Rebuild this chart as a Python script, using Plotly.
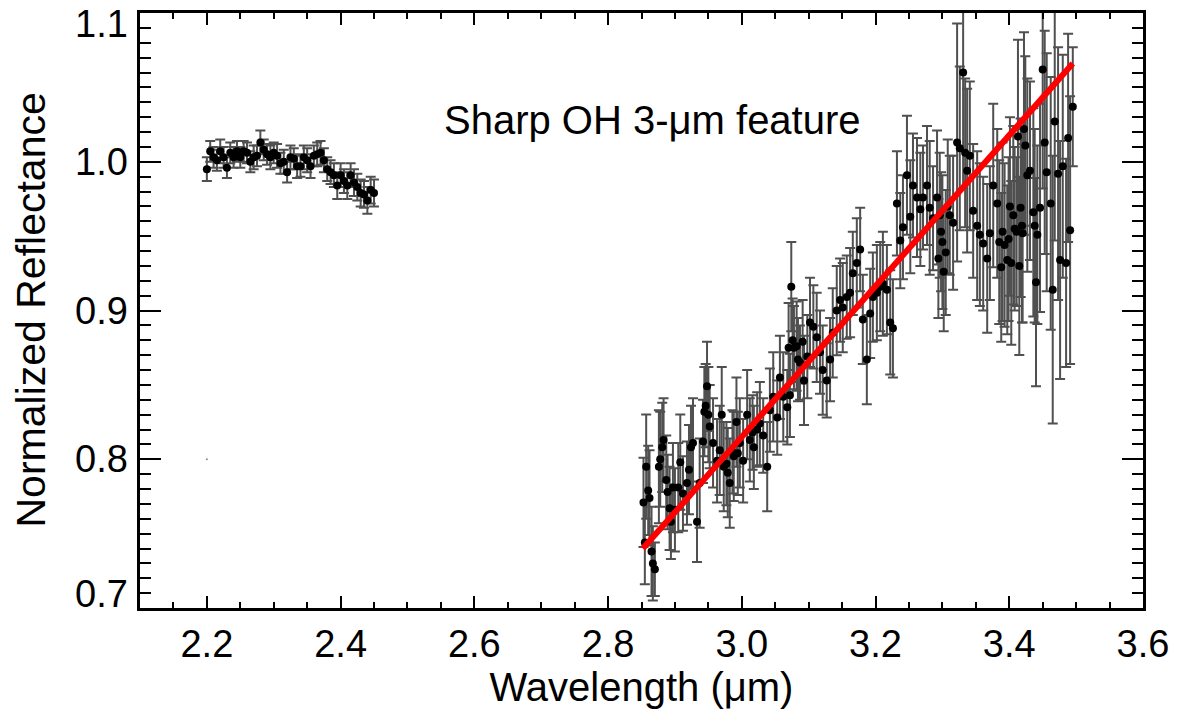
import plotly.graph_objects as go

# ---------------- data ----------------
# Short-wavelength segment (2.2-2.45 um)
wl_left = [2.200, 2.205, 2.210, 2.215, 2.220, 2.225, 2.230, 2.235, 2.240, 2.245,
           2.250, 2.255, 2.260, 2.265, 2.270, 2.275, 2.280, 2.285, 2.290, 2.295,
           2.300, 2.305, 2.310, 2.315, 2.320, 2.325, 2.330, 2.335, 2.340, 2.345,
           2.350, 2.355, 2.360, 2.365, 2.370, 2.375, 2.380, 2.385, 2.390, 2.395,
           2.400, 2.405, 2.410, 2.415, 2.420, 2.425, 2.430, 2.435, 2.440, 2.445,
           2.450]
refl_left = [0.995, 1.007, 1.003, 1.001, 1.007, 1.003, 0.996, 1.006, 1.003, 1.007,
             1.003, 1.007, 1.006, 1.000, 1.003, 1.004, 1.013, 1.008, 1.005, 1.003,
             1.006, 1.004, 0.999, 1.000, 0.993, 1.003, 1.002, 0.997, 0.997, 1.003,
             1.001, 0.997, 1.004, 1.005, 1.006, 1.001, 0.995, 0.993, 0.991, 0.984,
             0.991, 0.987, 0.984, 0.991, 0.986, 0.983, 0.979, 0.978, 0.974, 0.981,
             0.979]
err_left = [0.008, 0.007, 0.007, 0.007, 0.008, 0.007, 0.007, 0.007, 0.007, 0.007,
            0.007, 0.007, 0.007, 0.007, 0.008, 0.007, 0.008, 0.007, 0.007, 0.008,
            0.007, 0.008, 0.007, 0.008, 0.007, 0.008, 0.007, 0.008, 0.007, 0.008,
            0.008, 0.008, 0.007, 0.008, 0.008, 0.008, 0.008, 0.008, 0.008, 0.009,
            0.008, 0.008, 0.009, 0.008, 0.009, 0.009, 0.009, 0.009, 0.009, 0.009,
            0.009]

# Long-wavelength segment (2.85-3.5 um)
wl_right = [2.853, 2.855, 2.857, 2.860, 2.862, 2.865, 2.867, 2.870, 2.876, 2.878,
            2.881, 2.883, 2.887, 2.889, 2.892, 2.894, 2.897, 2.900, 2.905, 2.908,
            2.912, 2.918, 2.921, 2.924, 2.927, 2.933, 2.937, 2.942, 2.944, 2.946,
            2.948, 2.950, 2.952, 2.957, 2.963, 2.967, 2.970, 2.973, 2.977, 2.979,
            2.982, 2.986, 2.988, 2.992, 2.994, 2.997, 3.002, 3.008, 3.012, 3.016,
            3.018, 3.023, 3.027, 3.032, 3.038, 3.042, 3.047, 3.053, 3.057, 3.062,
            3.068, 3.070, 3.072, 3.074, 3.076, 3.078, 3.082, 3.084, 3.087, 3.091,
            3.093, 3.098, 3.102, 3.107, 3.112, 3.117, 3.121, 3.127, 3.132, 3.136,
            3.142, 3.147, 3.151, 3.157, 3.162, 3.166, 3.172, 3.177, 3.181, 3.187,
            3.192, 3.196, 3.202, 3.207, 3.211, 3.217, 3.222, 3.226, 3.232, 3.237,
            3.241, 3.247, 3.252, 3.256, 3.262, 3.267, 3.271, 3.277, 3.281, 3.286,
            3.292, 3.294, 3.296, 3.298, 3.300, 3.302, 3.305, 3.308, 3.311, 3.316,
            3.322, 3.326, 3.331, 3.334, 3.337, 3.341, 3.346, 3.352, 3.356, 3.361,
            3.367, 3.371, 3.376, 3.382, 3.385, 3.388, 3.390, 3.393, 3.397, 3.399,
            3.401, 3.403, 3.406, 3.408, 3.411, 3.413, 3.415, 3.417, 3.419, 3.420,
            3.422, 3.424, 3.427, 3.431, 3.436, 3.438, 3.440, 3.442, 3.446, 3.450,
            3.453, 3.456, 3.462, 3.465, 3.468, 3.473, 3.476, 3.480, 3.485, 3.488,
            3.491, 3.495]
refl_right = [0.771, 0.744, 0.795, 0.779, 0.774, 0.738, 0.730, 0.726, 0.795, 0.800,
              0.808, 0.813, 0.786, 0.778, 0.767, 0.758, 0.781, 0.766, 0.781, 0.798,
              0.777, 0.784, 0.793, 0.808, 0.811, 0.758, 0.784, 0.812, 0.832, 0.836,
              0.849, 0.830, 0.822, 0.811, 0.799, 0.806, 0.830, 0.795, 0.797, 0.791,
              0.784, 0.805, 0.802, 0.825, 0.804, 0.811, 0.799, 0.830, 0.813, 0.818,
              0.808, 0.820, 0.824, 0.816, 0.795, 0.833, 0.842, 0.828, 0.855, 0.842,
              0.835, 0.875, 0.843, 0.916, 0.880, 0.875, 0.876, 0.867, 0.865, 0.879,
              0.853, 0.869, 0.892, 0.889, 0.882, 0.872, 0.860, 0.853, 0.867, 0.885,
              0.900, 0.907, 0.902, 0.909, 0.912, 0.925, 0.932, 0.941, 0.894, 0.867,
              0.898, 0.909, 0.912, 0.916, 0.918, 0.914, 0.892, 0.888, 0.972, 0.947,
              0.956, 0.991, 0.963, 0.984, 0.976, 0.968, 0.976, 0.984, 0.969, 0.962,
              0.976, 0.935, 0.964, 0.953, 0.946, 0.926, 0.939, 0.970, 0.964, 0.959,
              1.013, 1.009, 1.060, 1.006, 0.994, 1.004, 0.967, 0.957, 0.951, 0.945,
              0.935, 0.952, 0.984, 0.972, 0.946, 0.929, 0.953, 0.944, 0.934, 0.948,
              0.970, 0.932, 0.964, 0.955, 0.953, 1.017, 0.930, 0.969, 0.957, 0.952,
              1.022, 1.011, 0.991, 0.994, 0.966, 0.957, 0.919, 0.951, 0.969, 1.062,
              1.013, 0.993, 0.972, 0.914, 1.027, 0.992, 0.934, 0.997, 0.932, 1.016,
              0.954, 1.037]
err_right = [0.030, 0.028, 0.035, 0.030, 0.032, 0.030, 0.025, 0.018, 0.038, 0.032,
             0.030, 0.028, 0.030, 0.025, 0.028, 0.025, 0.030, 0.028, 0.030, 0.032,
             0.025, 0.028, 0.030, 0.028, 0.030, 0.027, 0.030, 0.028, 0.030, 0.028,
             0.030, 0.032, 0.028, 0.030, 0.028, 0.030, 0.032, 0.030, 0.028, 0.030,
             0.030, 0.028, 0.030, 0.030, 0.028, 0.030, 0.028, 0.030, 0.028, 0.025,
             0.028, 0.025, 0.028, 0.025, 0.030, 0.028, 0.030, 0.025, 0.028, 0.030,
             0.025, 0.030, 0.028, 0.030, 0.028, 0.028, 0.030, 0.028, 0.025, 0.028,
             0.030, 0.028, 0.030, 0.028, 0.030, 0.028, 0.030, 0.025, 0.028, 0.030,
             0.030, 0.028, 0.030, 0.028, 0.030, 0.028, 0.030, 0.028, 0.030, 0.030,
             0.030, 0.030, 0.032, 0.030, 0.035, 0.030, 0.035, 0.033, 0.035, 0.032,
             0.035, 0.040, 0.038, 0.035, 0.040, 0.038, 0.035, 0.040, 0.045, 0.035,
             0.045, 0.040, 0.042, 0.040, 0.045, 0.040, 0.042, 0.045, 0.040, 0.045,
             0.080, 0.055, 0.078, 0.050, 0.055, 0.050, 0.045, 0.050, 0.048, 0.045,
             0.050, 0.045, 0.055, 0.050, 0.055, 0.050, 0.060, 0.055, 0.050, 0.055,
             0.060, 0.055, 0.060, 0.055, 0.050, 0.065, 0.060, 0.060, 0.065, 0.060,
             0.065, 0.060, 0.065, 0.060, 0.070, 0.065, 0.070, 0.060, 0.070, 0.080,
             0.075, 0.080, 0.085, 0.090, 0.080, 0.085, 0.080, 0.075, 0.070, 0.070,
             0.090, 0.040]

# Linear continuum fit (end points)
fit_wl = [2.852, 3.495]
fit_refl = [0.740, 1.066]

# stray speck in the original figure
speck_wl = [2.200]
speck_refl = [0.800]

x_ticks = [2.2, 2.4, 2.6, 2.8, 3.0, 3.2, 3.4, 3.6]
y_ticks = [0.7, 0.8, 0.9, 1.0, 1.1]
y_ticklabels = ["0.7", "0.8", "0.9", "1.0", "1.1"]

annotation_text = "Sharp OH 3-\u03bcm feature"
x_title = "Wavelength (\u03bcm)"
y_title = "Normalized Reflectance"

assert len(wl_left) == len(refl_left) == len(err_left)
assert len(wl_right) == len(refl_right) == len(err_right)

FONT = "Liberation Sans, Arial, Helvetica, sans-serif"
BAR_COLOR = "#505050"
TICK_SIZE = 38

fig = go.Figure()

for wl, rf, er in [(wl_left, refl_left, err_left), (wl_right, refl_right, err_right)]:
    fig.add_trace(go.Scatter(
        x=wl, y=rf, mode="markers",
        marker=dict(color="black", size=8, line=dict(width=0)),
        error_y=dict(type="data", array=er, visible=True,
                     color=BAR_COLOR, thickness=2, width=5),
        showlegend=False, hoverinfo="skip",
    ))

fig.add_trace(go.Scatter(
    x=speck_wl, y=speck_refl, mode="markers",
    marker=dict(color="#888888", size=2), showlegend=False, hoverinfo="skip"))

fig.add_trace(go.Scatter(
    x=fit_wl, y=fit_refl, mode="lines",
    line=dict(color="#ff0000", width=6), showlegend=False, hoverinfo="skip"))

fig.add_annotation(x=2.866, y=1.028, xref="x", yref="y", text=annotation_text,
                   showarrow=False, font=dict(family=FONT, size=40, color="black"))

# y tick labels: the end labels are nudged inward like in the original,
# so all of them are placed as text next to the axis (yshift > 0 moves up)
for val, lab in zip(y_ticks, y_ticklabels):
    yshift = 0
    if val == y_ticks[-1]:
        yshift = -11
    elif val == y_ticks[0]:
        yshift = 14
    fig.add_annotation(x=0, y=val, xref="paper", yref="y", text=lab,
                       showarrow=False, xanchor="right", yanchor="middle",
                       xshift=-10, yshift=yshift,
                       font=dict(family=FONT, size=TICK_SIZE, color="black"))

axis_common = dict(showgrid=False, zeroline=False, showline=True, linecolor="black",
                   linewidth=3, mirror="allticks", ticks="inside", tickwidth=2,
                   tickcolor="black", tickformat=".1f", automargin=False,
                   tickmode="array",
                   tickfont=dict(family=FONT, size=TICK_SIZE, color="black"))

fig.update_xaxes(range=[2.1, 3.6], tickvals=x_ticks, ticklen=12,
                 minor=dict(ticks="inside", tick0=2.1, dtick=0.05, ticklen=6,
                            tickwidth=2, tickcolor="black"),
                 title=dict(text=x_title, font=dict(family=FONT, size=40, color="black"),
                            standoff=6),
                 ticklabelstandoff=0,
                 **axis_common)
fig.update_yaxes(range=[0.7, 1.1], tickvals=y_ticks, ticklen=21, showticklabels=False,
                 minor=dict(ticks="inside", tick0=0.7, dtick=0.01, ticklen=11,
                            tickwidth=2, tickcolor="black"),
                 **axis_common)

# y axis title as rotated text (tick labels are annotations)
fig.add_annotation(x=0, y=0.5, xref="paper", yref="paper", text=y_title,
                   showarrow=False, textangle=-90, xanchor="center", yanchor="middle",
                   xshift=-110,
                   font=dict(family=FONT, size=41, color="black"))

# the page body adds an 8 px offset, so the figure is sized to fill the rest
fig.update_layout(width=1172, height=709,
                  margin=dict(l=132, r=37, t=5, b=109, pad=0, autoexpand=False),
                  paper_bgcolor="white", plot_bgcolor="white",
                  font=dict(family=FONT, color="black"))

fig.write_html("out.html")
